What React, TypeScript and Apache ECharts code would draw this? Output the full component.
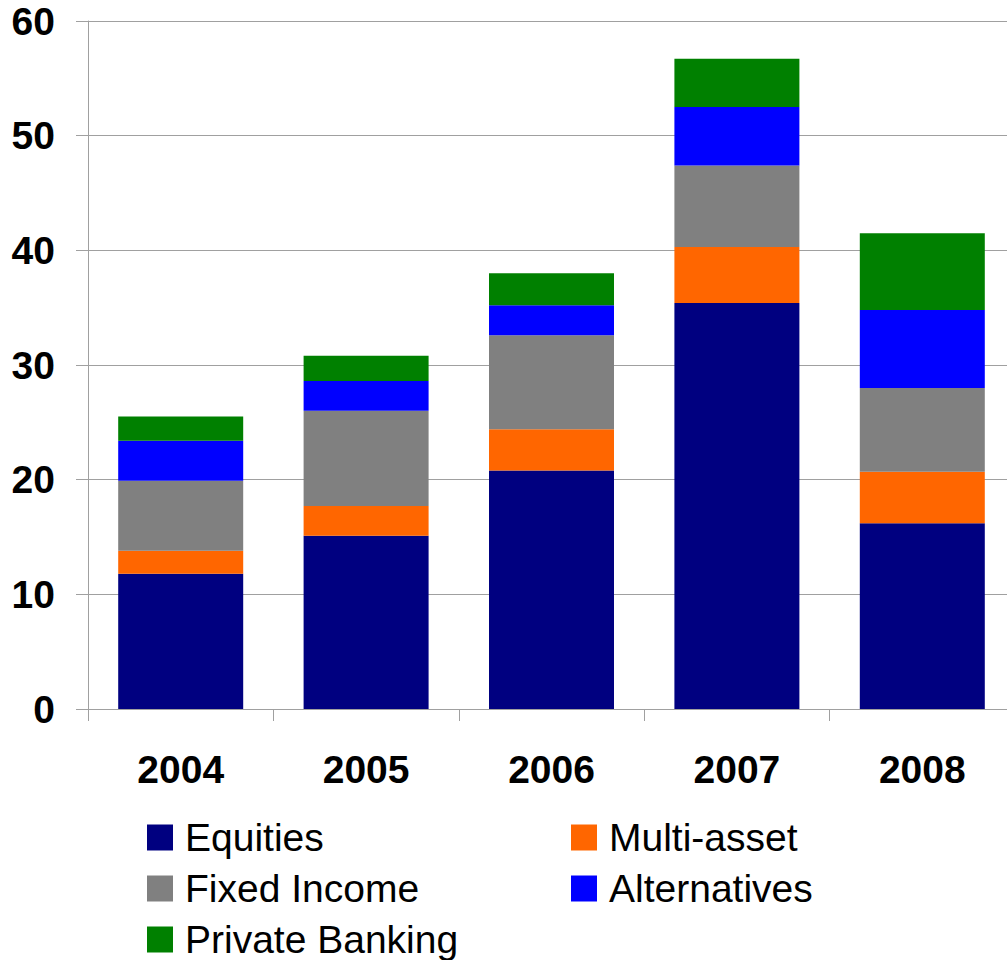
import React, { useEffect, useRef } from "react";
import * as echarts from "echarts";

const years = ["2004", "2005", "2006", "2007", "2008"];
const equities = [11.8, 15.1, 20.8, 35.4, 16.2];
const multiAsset = [2.0, 2.6, 3.6, 4.9, 4.5];
const fixedIncome = [6.1, 8.3, 8.2, 7.1, 7.3];
const alternatives = [3.5, 2.6, 2.6, 5.1, 6.8];
const privateBanking = [2.1, 2.2, 2.8, 4.2, 6.7];

const seriesDefs = [
  { name: "Equities", data: equities, color: "#000080" },
  { name: "Multi-asset", data: multiAsset, color: "#FF6600" },
  { name: "Fixed Income", data: fixedIncome, color: "#808080" },
  { name: "Alternatives", data: alternatives, color: "#0000FF" },
  { name: "Private Banking", data: privateBanking, color: "#008000" },
];

const FONT = "'Liberation Sans', Arial, sans-serif";

export default function App() {
  const ref = useRef<HTMLDivElement>(null);
  useEffect(() => {
    if (!ref.current) return;
    const chart = echarts.init(ref.current, undefined, { renderer: "svg" });
    const legendText = {
      fontFamily: FONT,
      fontSize: 39,
      color: "#000",
      lineHeight: 39,
      padding: [0, 0, 0, 7],
    };
    const legendBase = {
      orient: "vertical",
      top: 818,
      padding: 0,
      itemWidth: 26,
      itemHeight: 26,
      itemGap: 12,
      icon: "rect",
      textStyle: legendText,
    };
    chart.setOption({
      animation: false,
      backgroundColor: "#fff",
      grid: {
        left: 88,
        top: 21,
        bottom: 251,
        width: 927,
        containLabel: false,
        outerBoundsMode: "none",
      },
      legend: [
        { ...legendBase, left: 147, data: ["Equities", "Fixed Income", "Private Banking"] },
        { ...legendBase, left: 571, data: ["Multi-asset", "Alternatives"] },
      ],
      xAxis: {
        type: "category",
        data: years,
        axisLine: { lineStyle: { color: "#A0A0A0", width: 1 } },
        axisTick: { show: true, length: 12, lineStyle: { color: "#A0A0A0" } },
        axisLabel: {
          fontFamily: FONT,
          fontSize: 39,
          fontWeight: "bold",
          color: "#000",
          margin: 41,
        },
      },
      yAxis: {
        type: "value",
        min: 0,
        max: 60,
        interval: 10,
        axisLine: { show: true, lineStyle: { color: "#A0A0A0", width: 1 } },
        axisTick: { show: true, length: 12, lineStyle: { color: "#A0A0A0" } },
        splitLine: { show: true, lineStyle: { color: "#A0A0A0", width: 1 } },
        axisLabel: {
          fontFamily: FONT,
          fontSize: 39,
          fontWeight: "bold",
          color: "#000",
          margin: 33,
        },
      },
      series: seriesDefs.map((s) => ({
        name: s.name,
        type: "bar",
        stack: "total",
        barWidth: 125,
        data: s.data,
        itemStyle: { color: s.color },
      })),
    });
    return () => chart.dispose();
  }, []);
  return (
    <div
      ref={ref}
      style={{ position: "absolute", left: 0, top: 0, width: 1007, height: 960 }}
    />
  );
}
